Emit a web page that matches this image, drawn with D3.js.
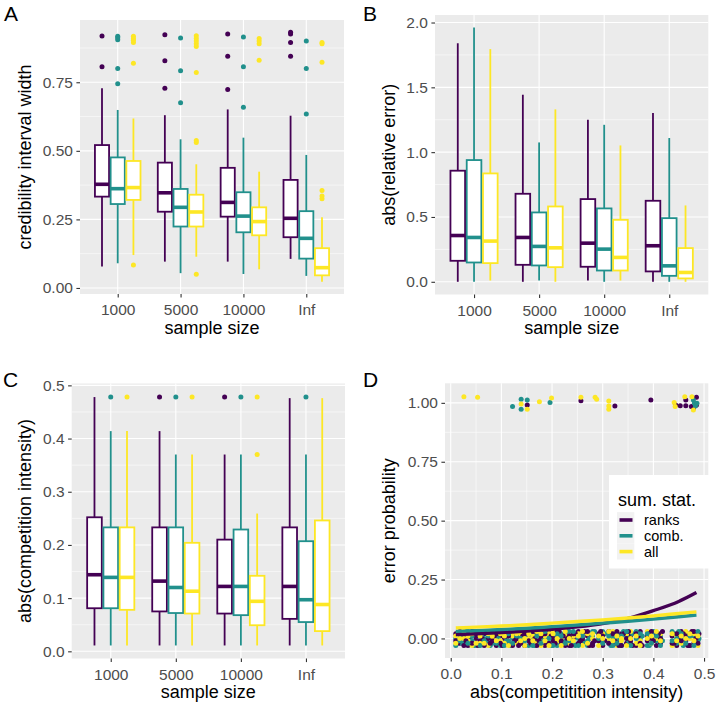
<!DOCTYPE html>
<html><head><meta charset="utf-8">
<script src="https://cdn.jsdelivr.net/npm/d3@7"></script>
<style>body{margin:0;background:#fff} svg{display:block}</style>
</head><body>
<svg id="chart" width="718" height="708"></svg>
<script>
// ---------- data ----------
const categories = ["1000", "5000", "10000", "Inf"];
const groups = ["ranks", "comb.", "all"];
const colors = ["#440154", "#21908C", "#FDE725"];

// Panel A: credibility interval width (order: per category -> ranks, comb., all)
const A_lo  = [0.078,0.090,0.120, 0.096,0.054,0.114, 0.096,0.051,0.068, 0.106,0.044,0.023];
const A_q1  = [0.333,0.306,0.321, 0.278,0.224,0.224, 0.260,0.203,0.192, 0.185,0.107,0.046];
const A_med = [0.378,0.362,0.366, 0.347,0.294,0.277, 0.312,0.262,0.242, 0.254,0.181,0.074];
const A_q3  = [0.521,0.476,0.463, 0.457,0.361,0.340, 0.438,0.349,0.294, 0.394,0.280,0.145];
const A_hi  = [0.728,0.649,0.618, 0.630,0.542,0.451, 0.651,0.548,0.424, 0.628,0.485,0.258];
const A_out = [
  [0.807,0.919], [0.745,0.800,0.905,0.912,0.918], [0.084,0.819,0.895,0.903,0.910,0.918],
  [0.728,0.828,0.923], [0.675,0.792,0.911], [0.050,0.530,0.538,0.786,0.880,0.890,0.900,0.910,0.920],
  [0.724,0.845,0.926], [0.659,0.807,0.915], [0.830,0.890,0.900,0.910],
  [0.845,0.895,0.926,0.932], [0.634,0.800,0.900], [0.325,0.335,0.355,0.823,0.890,0.895]
];
const A_ticks = [0.00, 0.25, 0.50, 0.75];
const A_minor = [0.125, 0.375, 0.625, 0.875];

// Panel B: abs(relative error)
const B_lo  = [0.000,0.000,0.010, 0.000,0.010,0.000, 0.010,0.000,0.010, 0.000,0.000,0.000];
const B_q1  = [0.162,0.149,0.144, 0.131,0.126,0.113, 0.116,0.087,0.087, 0.080,0.046,0.026];
const B_med = [0.357,0.342,0.314, 0.342,0.273,0.262, 0.298,0.252,0.188, 0.278,0.123,0.072];
const B_q3  = [0.857,0.939,0.836, 0.679,0.535,0.581, 0.638,0.566,0.478, 0.625,0.491,0.260];
const B_hi  = [1.840,1.962,1.795, 1.443,1.075,1.330, 1.250,1.211,1.052, 1.302,1.109,0.589];
const B_out = [[],[],[], [],[],[], [],[],[], [],[],[]];
const B_ticks = [0.0, 0.5, 1.0, 1.5, 2.0];
const B_minor = [0.25, 0.75, 1.25, 1.75];

// Panel C: abs(competition intensity)
const C_lo  = [0.011,0.011,0.011, 0.011,0.011,0.011, 0.011,0.011,0.011, 0.011,0.011,0.011];
const C_q1  = [0.081,0.081,0.078, 0.075,0.072,0.071, 0.071,0.068,0.049, 0.061,0.055,0.038];
const C_med = [0.144,0.139,0.139, 0.132,0.120,0.113, 0.122,0.122,0.094, 0.122,0.097,0.088];
const C_q3  = [0.252,0.233,0.233, 0.233,0.233,0.204, 0.210,0.229,0.142, 0.233,0.207,0.246];
const C_hi  = [0.478,0.414,0.414, 0.414,0.370,0.370, 0.370,0.370,0.259, 0.476,0.370,0.476];
const C_out = [[],[0.478],[0.478], [0.478],[0.478],[0.478], [0.478],[0.478],[0.370,0.478], [],[0.478],[]];
const C_ticks = [0.0, 0.1, 0.2, 0.3, 0.4, 0.5];
const C_minor = [0.05, 0.15, 0.25, 0.35, 0.45];

// Panel D: error probability vs abs(competition intensity)
const D_xticks = [0.0, 0.1, 0.2, 0.3, 0.4, 0.5];
const D_xminor = [0.05, 0.15, 0.25, 0.35, 0.45];
const D_yticks = [0.00, 0.25, 0.50, 0.75, 1.00];
const D_yminor = [0.125, 0.375, 0.625, 0.875];

// jittered points near 1 (errors)
const topRanksX = [0.151,0.257,0.324,0.395,0.444,0.453,0.464,0.464,0.485,0.485,0.479,0.475];
const topRanksY = [0.991,1.009,0.987,1.012,0.991,0.988,1.012,0.988,1.024,0.991,0.977,0.984];
const topCombX  = [0.122,0.139,0.139,0.151,0.196,0.479,0.481,0.483,0.486];
const topCombY  = [0.984,1.015,0.973,1.012,1.001,1.012,0.998,0.987,0.998];
const topAllX   = [0.026,0.053,0.139,0.151,0.175,0.199,0.257,0.285,0.288,0.312,0.312,0.312,0.441,0.443,0.462,0.476,0.479];
const topAllY   = [1.026,1.024,0.995,0.973,1.005,1.021,1.024,1.024,1.015,1.008,0.987,0.973,1.001,0.984,1.026,1.026,0.970];

// jittered points near 0 (no error): intensity columns and per-group y jitter rows
const bandX = [0.010,0.018,0.026,0.034,0.042,0.050,0.058,0.066,0.074,0.082,
  0.090,0.098,0.106,0.114,0.122,0.130,0.138,0.146,0.154,0.162,
  0.170,0.178,0.186,0.194,0.202,0.210,0.218,0.226,0.234,0.242,
  0.252,0.260,0.270,0.280,0.292,0.300,0.312,0.320,0.328,0.337,
  0.347,0.355,0.366,0.374,0.388,0.396,0.406,0.414,0.437,0.446,
  0.455,0.464,0.472,0.480,0.488];
const bandX2 = [0.014,0.022,0.030,0.038,0.046,0.054,0.062,0.070,0.078,0.086,
  0.094,0.102,0.110,0.118,0.126,0.134,0.142,0.150,0.158,0.166,
  0.174,0.182,0.190,0.198,0.206,0.214,0.222,0.230,0.238,0.246,
  0.256,0.264,0.274,0.284,0.296,0.304,0.316,0.324,0.332,0.341,
  0.351,0.359,0.370,0.378,0.392,0.400,0.410,0.418,0.441,0.450,
  0.459,0.468,0.476,0.484,0.490];
const bandRanksY1 = [0.02,-0.02,0.01,-0.03,0.03,0.00,-0.01,0.02,-0.02,0.03,
  -0.03,0.01,0.00,-0.02,0.02,-0.01,0.03,-0.03,0.01,-0.02,
  0.02,0.00,-0.03,0.03,-0.01,0.01,-0.02,0.02,-0.03,0.00,
  0.03,-0.01,0.01,-0.02,0.02,-0.03,0.03,0.00,-0.01,0.02,
  -0.02,0.01,-0.03,0.03,-0.01,0.00,0.02,-0.02,0.01,-0.03,
  0.03,-0.01,0.02,-0.02,0.00];
const bandRanksY2 = [-0.01,0.03,-0.03,0.02,-0.02,0.01,0.03,-0.03,0.00,-0.01,
  0.02,-0.02,0.03,0.01,-0.03,0.00,-0.02,0.02,-0.01,0.03,
  -0.03,0.01,0.02,-0.02,0.00,0.03,-0.01,-0.03,0.01,0.02,
  -0.02,0.00,0.03,-0.03,-0.01,0.01,-0.02,0.02,0.03,-0.03,
  0.00,-0.01,0.02,-0.02,0.01,0.03,-0.03,0.00,-0.02,0.02,
  -0.01,0.01,-0.03,0.03,-0.02];
const bandRanksY3 = [-0.02,0.02,-0.01,0.01,0.03,-0.03,0.00,0.03,-0.02,0.01,
  0.02,-0.03,0.01,0.03,-0.01,-0.03,0.01,0.03,-0.02,0.00,
  -0.01,0.02,-0.02,0.01,-0.02,0.03,0.01,0.00,-0.03,0.02,
  -0.01,0.03,-0.03,-0.01,0.03,-0.01,0.02,-0.02,-0.03,0.02,
  0.03,-0.03,0.01,-0.03,0.02,-0.01,0.02,0.03,-0.02,0.00,
  0.02,-0.03,0.03,0.00,0.02];
const bandCombY1 = [0.00,0.01,-0.02,0.03,-0.01,-0.03,0.02,0.00,0.03,-0.02,
  0.01,-0.03,0.02,-0.01,0.00,0.03,-0.02,0.01,-0.03,0.02,
  -0.01,0.03,0.00,-0.02,0.01,-0.03,0.02,-0.01,0.03,-0.02,
  0.00,0.02,-0.03,0.01,-0.01,0.03,-0.02,0.00,0.02,-0.03,
  0.01,-0.02,0.03,0.00,-0.03,0.02,-0.01,0.01,0.03,-0.02,
  0.00,0.02,-0.03,0.01,-0.01];
const bandCombY2 = [-0.03,-0.01,0.02,-0.02,0.01,0.03,-0.03,-0.01,0.01,0.02,
  -0.02,0.03,-0.03,0.02,-0.02,0.01,0.00,-0.01,0.03,-0.03,
  0.01,-0.02,0.03,0.00,-0.03,0.02,0.01,-0.02,-0.01,0.03,
  -0.03,0.01,-0.01,0.03,0.00,-0.02,0.01,-0.03,-0.02,0.01,
  0.03,-0.03,0.00,0.02,0.02,-0.02,0.01,-0.03,-0.01,0.00,
  0.02,-0.02,0.01,-0.03,0.03];
const bandCombY3 = [0.01,-0.02,0.03,0.00,-0.03,0.01,0.02,-0.01,-0.03,0.03,
  0.00,0.02,-0.01,-0.03,0.03,0.01,-0.02,0.02,0.00,-0.03,
  0.03,-0.01,0.01,-0.03,0.02,0.00,-0.02,0.03,0.01,-0.03,
  0.02,-0.02,0.00,0.03,-0.01,0.02,-0.03,0.01,0.00,0.03,
  -0.01,0.02,-0.02,0.01,-0.03,0.03,0.00,-0.01,0.02,0.03,
  -0.03,0.01,0.02,-0.02,0.00];
const bandAllY1 = [0.01,0.03,0.00,-0.01,-0.03,0.02,-0.02,0.03,-0.03,0.00,
  0.03,-0.01,-0.02,0.03,0.01,-0.02,0.02,-0.03,0.00,0.01,
  -0.02,-0.03,0.01,0.02,0.03,-0.01,0.00,0.01,-0.02,0.01,
  0.02,-0.03,0.02,0.00,-0.03,0.02,0.00,0.03,-0.03,-0.01,
  0.02,0.03,-0.02,-0.01,0.03,-0.02,0.00,0.02,-0.03,0.01,
  -0.02,0.03,0.00,0.02,-0.03];
const bandAllY2 = [-0.02,0.00,0.03,0.01,0.02,-0.02,0.01,-0.02,0.02,0.01,
  -0.01,0.02,0.01,-0.03,0.03,0.02,-0.01,0.00,0.02,-0.01,
  0.03,0.02,-0.01,-0.03,0.02,0.00,-0.03,0.03,0.00,-0.01,
  0.01,0.03,-0.02,0.02,0.01,0.00,0.03,-0.01,0.01,0.00,
  -0.03,0.00,0.01,-0.03,0.00,0.01,0.03,-0.01,0.02,-0.01,
  0.01,0.00,0.02,-0.01,0.01];

// fitted logistic curves
const curveX     = [0.01, 0.05, 0.10, 0.15, 0.20, 0.25, 0.30, 0.35, 0.40, 0.45, 0.485];
const curveRanks = [0.017,0.020,0.025,0.031,0.039,0.049,0.063,0.085,0.118,0.157,0.195];
const curveComb  = [0.030,0.033,0.038,0.043,0.050,0.057,0.065,0.073,0.082,0.092,0.099];
const curveAll   = [0.045,0.048,0.053,0.058,0.065,0.072,0.079,0.087,0.096,0.106,0.113];

// ---------- drawing ----------
const FONT = "'Liberation Sans', Arial, Helvetica, sans-serif";
const svg = d3.select("#chart");
svg.append("rect").attr("width", 718).attr("height", 708).attr("fill", "#fff");

function styleAxis(g) {
  g.select(".domain").remove();
  g.selectAll(".tick line").attr("stroke", "#333333").attr("stroke-width", 1.1);
  g.selectAll(".tick text").attr("fill", "#4D4D4D").style("font-size", "15.5px").style("font-family", FONT);
}

function frame(r, x, y, yTicks, yMinor, yFmt, xTicks, xMinor, xFmt) {
  const g = svg.append("g");
  g.append("rect").attr("x", r.x0).attr("y", r.y0).attr("width", r.x1 - r.x0).attr("height", r.y1 - r.y0).attr("fill", "#EBEBEB");
  const grid = g.append("g").attr("stroke", "#fff");
  yMinor.forEach(v => grid.append("line").attr("x1", r.x0).attr("x2", r.x1).attr("y1", y(v)).attr("y2", y(v)).attr("stroke-width", 0.55));
  xMinor.forEach(v => grid.append("line").attr("y1", r.y0).attr("y2", r.y1).attr("x1", x(v)).attr("x2", x(v)).attr("stroke-width", 0.55));
  yTicks.forEach(v => grid.append("line").attr("x1", r.x0).attr("x2", r.x1).attr("y1", y(v)).attr("y2", y(v)).attr("stroke-width", 1.1));
  xTicks.forEach(v => grid.append("line").attr("y1", r.y0).attr("y2", r.y1).attr("x1", x(v)).attr("x2", x(v)).attr("stroke-width", 1.1));
  const ya = g.append("g").attr("transform", `translate(${r.x0},0)`)
    .call(d3.axisLeft(y).tickValues(yTicks).tickFormat(yFmt).tickSize(3.6).tickPadding(3.5).tickSizeOuter(0));
  styleAxis(ya);
  const xa = g.append("g").attr("transform", `translate(0,${r.y1})`)
    .call(d3.axisBottom(x).tickValues(xTicks).tickFormat(xFmt).tickSize(3.6).tickPadding(6.5).tickSizeOuter(0));
  styleAxis(xa);
  return g;
}

function texts(r, label, lx, ly, xTitle, xTitleY, yTitle, yTitleX) {
  svg.append("text").attr("x", lx).attr("y", ly).text(label)
    .style("font-family", FONT).style("font-size", "21px").attr("fill", "#000");
  svg.append("text").attr("x", (r.x0 + r.x1) / 2).attr("y", xTitleY).attr("text-anchor", "middle").text(xTitle)
    .style("font-family", FONT).style("font-size", "18px").attr("fill", "#000");
  svg.append("text").attr("transform", `translate(${yTitleX},${(r.y0 + r.y1) / 2}) rotate(-90)`)
    .attr("text-anchor", "middle").text(yTitle)
    .style("font-family", FONT).style("font-size", "18px").attr("fill", "#000");
}

function boxPanel(r, domain, yTicks, yMinor, yFmt, lo, q1, med, q3, hi, outs) {
  const x = d3.scalePoint().domain(categories).range([r.x0, r.x1]).padding(0.6);
  const y = d3.scaleLinear().domain(domain).range([r.y1, r.y0]);
  const g = frame(r, x, y, yTicks, yMinor, yFmt, categories, [], d => d);
  const step = x.step();
  const bw = step * 0.25 * 0.9;
  categories.forEach((c, i) => {
    groups.forEach((gr, j) => {
      const k = i * 3 + j;
      const cx = x(c) + (j - 1) * step * 0.25;
      const col = colors[j];
      const b = g.append("g");
      b.append("line").attr("x1", cx).attr("x2", cx).attr("y1", y(hi[k])).attr("y2", y(q3[k])).attr("stroke", col).attr("stroke-width", 1.8);
      b.append("line").attr("x1", cx).attr("x2", cx).attr("y1", y(q1[k])).attr("y2", y(lo[k])).attr("stroke", col).attr("stroke-width", 1.8);
      b.append("rect").attr("x", cx - bw / 2).attr("y", y(q3[k])).attr("width", bw).attr("height", y(q1[k]) - y(q3[k]))
        .attr("fill", "#fff").attr("stroke", col).attr("stroke-width", 1.8);
      b.append("line").attr("x1", cx - bw / 2).attr("x2", cx + bw / 2).attr("y1", y(med[k])).attr("y2", y(med[k])).attr("stroke", col).attr("stroke-width", 3.6);
      outs[k].forEach(v => b.append("circle").attr("cx", cx).attr("cy", y(v)).attr("r", 2.5).attr("fill", col));
    });
  });
}

// Panel A
const rA = {x0: 80, x1: 344, y0: 20, y1: 294};
boxPanel(rA, [-0.022, 0.977], A_ticks, A_minor, d3.format(".2f"), A_lo, A_q1, A_med, A_q3, A_hi, A_out);
texts(rA, "A", 4, 21, "sample size", 334, "credibility interval width", 31);

// Panel B
const rB = {x0: 435, x1: 708.3, y0: 15, y1: 294.5};
boxPanel(rB, [-0.098, 2.058], B_ticks, B_minor, d3.format(".1f"), B_lo, B_q1, B_med, B_q3, B_hi, B_out);
texts(rB, "B", 363, 21, "sample size", 334, "abs(relative error)", 395);

// Panel C
const rC = {x0: 71.7, x1: 345, y0: 383.5, y1: 658.5};
boxPanel(rC, [-0.0135, 0.5035], C_ticks, C_minor, d3.format(".1f"), C_lo, C_q1, C_med, C_q3, C_hi, C_out);
texts(rC, "C", 3, 387, "sample size", 698, "abs(competition intensity)", 31);

// Panel D
const rD = {x0: 445, x1: 708.3, y0: 383.3, y1: 658};
const xD = d3.scaleLinear().domain([-0.0113, 0.5084]).range([rD.x0, rD.x1]);
const yD = d3.scaleLinear().domain([-0.083, 1.083]).range([rD.y1, rD.y0]);
const gD = frame(rD, xD, yD, D_yticks, D_yminor, d3.format(".2f"), D_xticks, D_xminor, d3.format(".1f"));
texts(rD, "D", 363, 387, "abs(competitition intensity)", 698, "error probability", 395);

const pts = gD.append("g");
function addPts(xs, ys, col) {
  xs.forEach((v, i) => { if (ys[i] !== undefined) pts.append("circle").attr("cx", xD(v)).attr("cy", yD(ys[i])).attr("r", 2.5).attr("fill", col); });
}
addPts(bandX, bandRanksY1, colors[0]);
addPts(bandX2, bandCombY3, colors[1]);
addPts(bandX, bandCombY1, colors[1]);
addPts(bandX, bandAllY1, colors[2]);
addPts(bandX2, bandRanksY3, colors[0]);
addPts(bandX, bandRanksY2, colors[0]);
addPts(bandX, bandCombY2, colors[1]);
addPts(bandX, bandAllY2, colors[2]);
addPts(topRanksX, topRanksY, colors[0]);
addPts(topCombX, topCombY, colors[1]);
addPts(topAllX, topAllY, colors[2]);

const line = d3.line().x((d, i) => xD(curveX[i])).y(d => yD(d)).curve(d3.curveMonotoneX);
[curveRanks, curveComb, curveAll].forEach((c, j) => {
  gD.append("path").attr("d", line(c)).attr("fill", "none").attr("stroke", colors[j]).attr("stroke-width", 3.4).attr("stroke-linecap", "butt");
});

// Legend
const lg = svg.append("g");
lg.append("rect").attr("x", 609).attr("y", 475).attr("width", 109).attr("height", 93.5).attr("fill", "#fff");
lg.append("text").attr("x", 618).attr("y", 506).text("sum. stat.").style("font-family", FONT).style("font-size", "18px").attr("fill", "#000");
groups.forEach((gr, j) => {
  const cy = 520 + j * 15.8;
  lg.append("rect").attr("x", 617).attr("y", cy - 7.9).attr("width", 17.3).attr("height", 15.8).attr("fill", "#F2F2F2");
  lg.append("line").attr("x1", 619.5).attr("x2", 632.5).attr("y1", cy).attr("y2", cy).attr("stroke", colors[j]).attr("stroke-width", 3.6);
  lg.append("text").attr("x", 644).attr("y", cy + 5).text(gr).style("font-family", FONT).style("font-size", "14.5px").attr("fill", "#000");
});
</script>
</body></html>
